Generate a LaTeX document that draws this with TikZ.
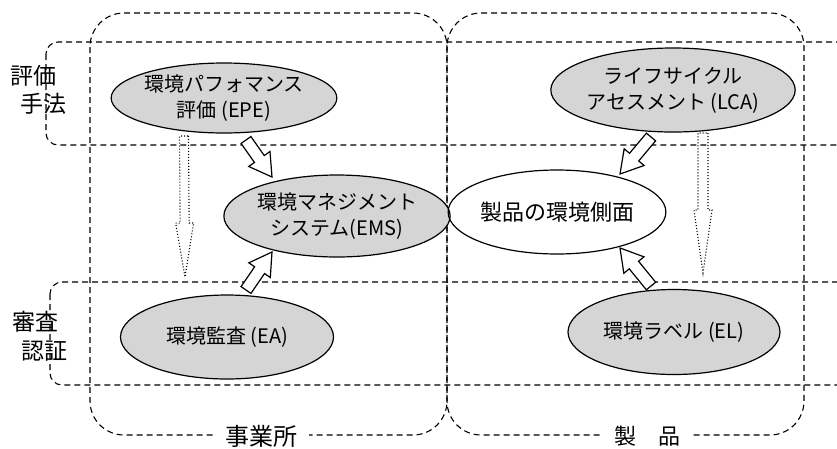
\documentclass[tikz,border=0pt]{standalone}
\usepackage{fontspec}
\setmainfont{Noto Sans CJK JP}
\usetikzlibrary{shapes.geometric,calc}

\tikzset{
  grp/.style={draw, dash pattern=on 6pt off 4pt, line width=1.1pt},
  ell/.style={ellipse, draw, line width=1.2pt, inner sep=0pt, align=center,
    font=\fontsize{20}{26}\selectfont},
  grayell/.style={ell, fill=gray!33},
  blockarr/.style={draw, line width=1.2pt, fill=white, line join=miter},
  dotarr/.style={draw, line width=1.1pt, dash pattern=on 1pt off 2pt},
  sidelab/.style={anchor=west, inner sep=0pt, font=\fontsize{23}{23}\selectfont},
  botlab/.style={fill=white, inner xsep=12pt, inner ysep=1pt},
}

% #1 tail, #2 tip, #3 shaft half width, #4 head half width, #5 head length, #6 style
\newcommand\hollowarrow[6]{%
  \draw[#6] ($(#1)!#3!90:(#2)$)
    -- ($(#2)!#5!(#1)!#3!-90:(#1)$)
    -- ($(#2)!#5!(#1)!#4!-90:(#1)$)
    -- (#2)
    -- ($(#2)!#5!(#1)!#4!90:(#1)$)
    -- ($(#2)!#5!(#1)!#3!90:(#1)$)
    -- ($(#1)!#3!-90:(#2)$) -- cycle;}

\begin{document}
\begin{tikzpicture}[x=1pt,y=-1pt]
\useasboundingbox (0,0) rectangle (837,448);
\clip (0,0) rectangle (837,448);

% horizontal groups
\draw[grp, rounded corners=12pt] (46,42) rectangle (900,145);
\draw[grp, rounded corners=12pt] (50,282) rectangle (900,385);
% vertical groups
\draw[grp, rounded corners=34pt] (90,13) rectangle (447,435);
\draw[grp, rounded corners=34pt] (447,13) rectangle (804,435);

% side labels
\node[sidelab] (l1a) at (10,76) {評価};
\node[sidelab] (l1b) at (20,104) {手法};
\node[sidelab] (l2a) at (12,322) {審査};
\node[sidelab] (l2b) at (21,351) {認証};

% bottom labels
\node[botlab, font=\fontsize{24}{24}\selectfont] (biz) at (261,436) {事業所};
\node[botlab, font=\fontsize{22}{22}\selectfont] (prod) at (647,436) {製　品};

% ellipses
\node[grayell, minimum width=212pt, minimum height=70pt] (EPE) at (224,98)
  {環境パフォマンス\\評価 (EPE)};
\node[grayell, minimum width=217pt, minimum height=82pt] (EMS) at (337,216)
  {環境マネジメント\\システム(EMS)};
\node[grayell, minimum width=218pt, minimum height=84pt] (LCA) at (673,90)
  {ライフサイクル\\アセスメント (LCA)};
\node[ell, minimum width=210pt, minimum height=84pt,
  font=\fontsize{22}{26}\selectfont] (ASP) at (557,212) {製品の環境側面};
\node[grayell, minimum width=213pt, minimum height=84pt] (EA) at (227,337)
  {環境監査 (EA)};
\node[grayell, minimum width=212pt, minimum height=85pt] (EL) at (674,332)
  {環境ラベル (EL)};

% arrow end points
\path (EPE.center) ++(22,42) coordinate (a1t);
\path (EMS.center) ++(-65,-39) coordinate (a1h);
\path (EA.center) ++(19,-47) coordinate (a2t);
\path (EMS.center) ++(-65,36) coordinate (a2h);
\path (LCA.center) ++(-22,47) coordinate (a3t);
\path (ASP.center) ++(63,-38) coordinate (a3h);
\path (EL.center) ++(-23,-46) coordinate (a4t);
\path (ASP.center) ++(63,36) coordinate (a4h);
\path (EPE.center) ++(-40,38) coordinate (d1t);
\path (EA.center) ++(-42,-60) coordinate (d1h);
\path (LCA.center) ++(30,43) coordinate (d2t);
\path (EL.center) ++(29,-59) coordinate (d2h);

% block arrows
\hollowarrow{a1t}{a1h}{6pt}{13pt}{22pt}{blockarr}
\hollowarrow{a2t}{a2h}{6pt}{13pt}{22pt}{blockarr}
\hollowarrow{a3t}{a3h}{6pt}{13pt}{22pt}{blockarr}
\hollowarrow{a4t}{a4h}{6pt}{13pt}{22pt}{blockarr}

% dotted arrows
\hollowarrow{d1t}{d1h}{4.5pt}{9pt}{54pt}{dotarr}
\hollowarrow{d2t}{d2h}{5pt}{9pt}{63pt}{dotarr}
\end{tikzpicture}
\end{document}
